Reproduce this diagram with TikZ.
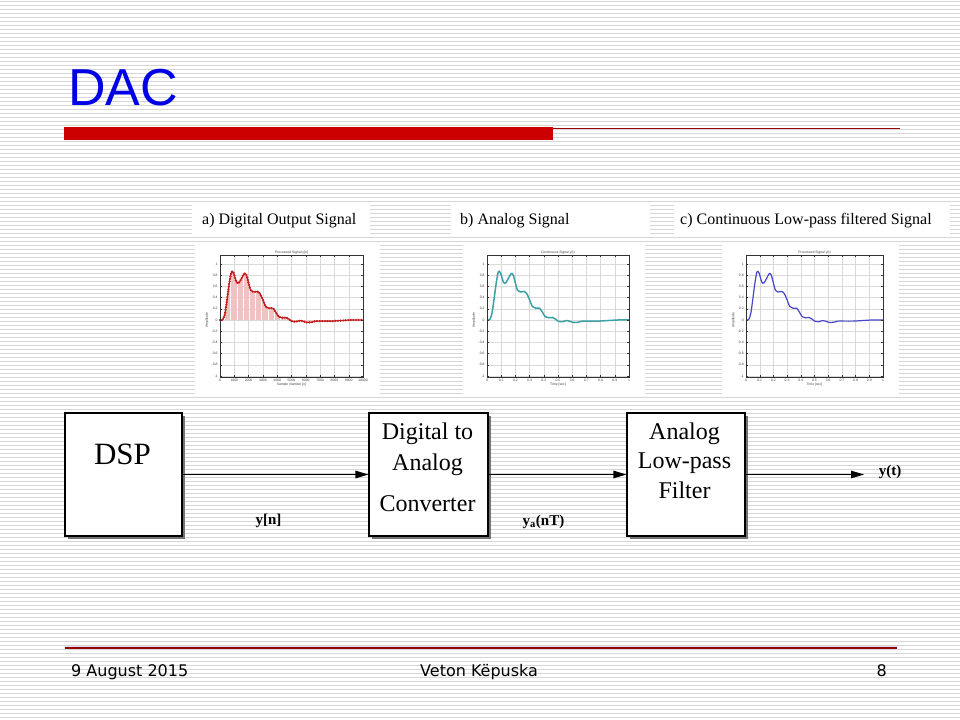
\documentclass[tikz,border=0pt]{standalone}
\usepackage{fontspec}
\setmainfont{Liberation Serif}
\newfontfamily\headfont{Liberation Sans}
\newfontfamily\footfont{DejaVu Sans}
\usetikzlibrary{arrows.meta,shadows}
\definecolor{titleblue}{RGB}{0,0,230}
\definecolor{barred}{RGB}{204,0,0}
\definecolor{linered}{RGB}{153,0,0}
\definecolor{stemred}{RGB}{240,195,195}
\definecolor{dotred}{RGB}{195,25,25}
\definecolor{tealc}{RGB}{60,160,165}
\definecolor{bluec}{RGB}{70,70,200}
\definecolor{stripegray}{RGB}{214,214,214}

\newcommand{\sigcurve}{plot[smooth,tension=0.5] coordinates {(0,0) (0.02,0.01) (0.035,0.12) (0.05,0.38) (0.065,0.66) (0.08,0.86) (0.095,0.84) (0.115,0.68) (0.13,0.66) (0.15,0.74) (0.17,0.83) (0.185,0.8) (0.2,0.66) (0.215,0.53) (0.235,0.5) (0.26,0.51) (0.28,0.47) (0.3,0.36) (0.32,0.24) (0.345,0.21) (0.37,0.21) (0.39,0.14) (0.41,0.06) (0.435,0.04) (0.46,0.045) (0.48,0.02) (0.5,-0.02) (0.53,-0.03) (0.56,-0.01) (0.58,-0.02) (0.61,-0.045) (0.64,-0.04) (0.67,-0.02) (0.72,-0.02) (0.78,-0.02) (0.85,-0.01) (0.92,0.0) (1,0.0)}}

\newcommand{\plotaxes}[2]{%
  \foreach \k in {0,...,10} \draw[gridl] (\k/10,-1.02) -- (\k/10,1.16);
  \foreach \k in {-5,...,5} \draw[gridl] (0,\k/5) -- (1,\k/5);
  \foreach \t [count=\c from 0] in {1,0.8,0.6,0.4,0.2,0,-0.2,-0.4,-0.6,-0.8,-1}
    \node[ticklab, anchor=east] (#1y\c) at (-0.012,1-\c/5) {\t};
  \foreach \t [count=\c from 0] in {#2}
    \node[ticklab, anchor=north] (#1x\c) at (\c/10,-1.04) {\t};
}
\newcommand{\plotframe}{%
  \draw[axisl] (0,-1.02) rectangle (1,1.16);
  \foreach \k in {0,...,10} {\draw[axisl] (\k/10,-1.02) -- ++(0,0.03); \draw[axisl] (\k/10,1.16) -- ++(0,-0.03);}
  \foreach \k in {-5,...,5} {\draw[axisl] (0,\k/5) -- ++(0.015,0); \draw[axisl] (1,\k/5) -- ++(-0.015,0);}
}

\tikzset{
  stripe/.style={draw=stripegray, line width=1.3bp},
  gridl/.style={draw=gray!30, line width=0.3bp},
  axisl/.style={draw=black!80, line width=0.35bp},
  ticklab/.style={font=\headfont\fontsize{3.4bp}{4bp}\selectfont, inner sep=0.5bp, text=black!75},
  caption/.style={font=\fontsize{16bp}{19bp}\selectfont, inner sep=0, anchor=base west},
  block/.style={draw=black, line width=1.1bp, fill=white, minimum width=#1, minimum height=123bp, inner sep=0,
    drop shadow={shadow xshift=2.5bp, shadow yshift=-2.5bp, fill=black!55, opacity=1}},
  blocktext/.style={font=\fontsize{24bp}{28bp}\selectfont, inner sep=0, anchor=base},
  sig/.style={font=\bfseries\fontsize{15bp}{18bp}\selectfont, inner sep=0, anchor=base},
  flow/.style={draw=black, line width=1.1bp, -{Triangle[length=13bp,width=7.5bp]}},
  foot/.style={font=\footfont\fontsize{16bp}{19bp}\selectfont, inner sep=0, text=black},
  dotline/.style={draw=dotred, line width=2.5bp, line cap=round, dash pattern=on 0bp off 2.6bp}
}

\begin{document}
\begin{tikzpicture}[x=1bp,y=-1bp]
\useasboundingbox (0,0) rectangle (960,720);
\fill[white] (0,0) rectangle (960,720);
\foreach \i in {0,...,179} \draw[stripe] (0,4*\i+1.5) -- (960,4*\i+1.5);

% heading
\node[anchor=base west, inner sep=0, font=\headfont\fontsize{52bp}{60bp}\selectfont, text=titleblue] (title) at (68,106) {DAC};
\fill[barred] (64,127.5) rectangle (553,140.5);
\draw[linered, line width=1.5bp] (553,128.3) -- (900,128.3);

% captions
\fill[white] (192,203) rectangle (370,234);
\fill[white] (451,203) rectangle (650,234);
\fill[white] (674,203) rectangle (950,234);
\node[caption] (capa) at (202,224) {a) Digital Output Signal};
\node[caption] (capb) at (460,224) {b) Analog Signal};
\node[caption] (capc) at (680,224) {c) Continuous Low-pass filtered Signal};

% plot panels
\fill[white] (195,245) rectangle (380,396);
\fill[white] (463,245) rectangle (645,396);
\fill[white] (722,245) rectangle (899,396);

% plot a
\begin{scope}[shift={(220,320)}, x=143bp, y=56bp]
  \plotaxes{a}{0,1000,2000,3000,4000,5000,6000,7000,8000,9000,10000}
  \begin{scope}
    \clip \sigcurve -- (1,0) -- cycle;
    \foreach \k in {1,...,120} \draw[stemred, line width=0.4bp] (\k/120,-0.3) -- (\k/120,1);
  \end{scope}
  \draw[dotred, line width=0.9bp] \sigcurve;
  \draw[dotline] \sigcurve;
  \plotframe
  \node[ticklab, anchor=south] (ta) at (0.5,1.17) {Processed Signal y[n]};
  \node[ticklab, anchor=north] (xla) at (0.5,-1.12) {Sample Number [n]};
  \node[ticklab, rotate=90, anchor=south] (yla) at (-0.075,0) {Amplitude};
\end{scope}

% plot b
\begin{scope}[shift={(487,320)}, x=142bp, y=56bp]
  \plotaxes{b}{0,0.1,0.2,0.3,0.4,0.5,0.6,0.7,0.8,0.9,1}
  \draw[tealc, line width=1.5bp] \sigcurve;
  \plotframe
  \node[ticklab, anchor=south] (tb) at (0.5,1.17) {Continuous Signal y(t)};
  \node[ticklab, anchor=north] (xlb) at (0.5,-1.12) {Time [sec]};
  \node[ticklab, rotate=90, anchor=south] (ylb) at (-0.075,0) {Amplitude};
\end{scope}

% plot c
\begin{scope}[shift={(746,320)}, x=137bp, y=56bp]
  \plotaxes{c}{0,0.1,0.2,0.3,0.4,0.5,0.6,0.7,0.8,0.9,1}
  \draw[bluec, line width=1.2bp] \sigcurve;
  \plotframe
  \node[ticklab, anchor=south] (tc) at (0.5,1.17) {Processed Signal y(t)};
  \node[ticklab, anchor=north] (xlc) at (0.5,-1.12) {Time [sec]};
  \node[ticklab, rotate=90, anchor=south] (ylc) at (-0.075,0) {Amplitude};
\end{scope}

% blocks
\node[block=117bp] (dsp) at (123.5,474.5) {};
\node[block=119bp] (dac) at (428.5,474.5) {};
\node[block=118bp] (filt) at (686,474.5) {};
\node[font=\fontsize{31bp}{36bp}\selectfont, inner sep=0, anchor=base] (dsptxt) at (122.5,464) {DSP};
\node[blocktext] (dac1) at (427.5,439) {Digital to};
\node[blocktext] (dac2) at (427.5,470.5) {Analog};
\node[blocktext] (dac3) at (427.5,511.5) {Converter};
\node[blocktext] (f1) at (684.5,439) {Analog};
\node[blocktext] (f2) at (684.5,468) {Low-pass};
\node[blocktext] (f3) at (684.5,498) {Filter};

% connectors
\coordinate (yout) at (864,474.5);
\draw[flow] (dsp) -- (dac);
\draw[flow] (dac) -- (filt);
\draw[flow] (filt) -- (yout);
\node[sig] (lyn) at (268.5,524) {y[n]};
\node[sig] (lya) at (543.5,525) {y\textsubscript{a}(nT)};
\node[sig] (lyt) at (890,475) {y(t)};

% footer
\draw[blue!12, line width=1bp] (65,646.3) -- (897,646.3);
\draw[linered, line width=1.3bp] (65,648) -- (897,648);
\node[foot, anchor=base west] (fdate) at (71,676) {9 August 2015};
\node[foot, anchor=base west] (fauth) at (420,676) {Veton Këpuska};
\node[foot, anchor=base east] (fpage) at (887,676) {8};
\end{tikzpicture}
\end{document}
